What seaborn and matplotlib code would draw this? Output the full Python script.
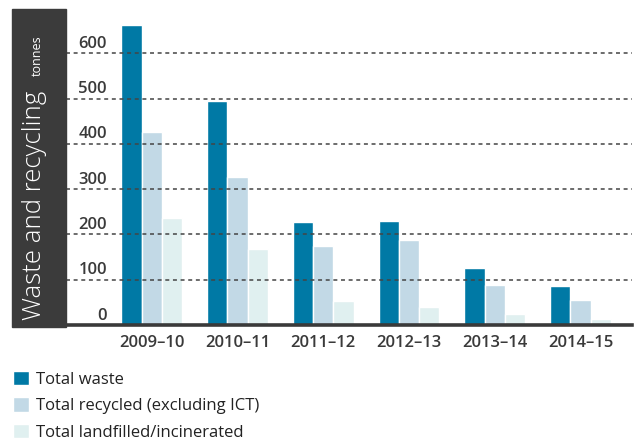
#Waste and recycling chart
import matplotlib
matplotlib.use("Agg")
import pandas as pd
import matplotlib.pyplot as plt
import matplotlib.transforms as mtransforms
from matplotlib.patches import Rectangle
import seaborn as sns

# data (tonnes)
years = ["2009–10", "2010–11", "2011–12", "2012–13", "2013–14", "2014–15"]
total_waste = [662, 494, 227, 230, 126, 86]
total_recycled = [426, 327, 174, 188, 88, 55]
total_landfilled = [236, 168, 53, 40, 24, 13]
series_names = ["Total waste", "Total recycled (excluding ICT)", "Total landfilled/incinerated"]
colors = ["#0079a5", "#c2d9e6", "#e0f0f0"]
yticks = [0, 100, 200, 300, 400, 500, 600]

df = pd.DataFrame({
    "year": years * 3,
    "series": [series_names[0]] * 6 + [series_names[1]] * 6 + [series_names[2]] * 6,
    "tonnes": total_waste + total_recycled + total_landfilled,
})

sns.set_style("white")
plt.rcParams["font.family"] = ["Open Sans", "DejaVu Sans"]

W, H = 635, 441
fig = plt.figure(figsize=(W / 100, H / 100), dpi=100)
ax = fig.add_axes([66 / W, 1 - 325 / H, 566 / W, 316 / H])

sns.barplot(data=df, x="year", y="tonnes", hue="series", palette=colors,
            width=0.71, gap=0, saturation=1, ax=ax)

ax.set_xlim(-1.0, 5.6)
ax.set_ylim(0, 698)
ax.set_xlabel("")
ax.set_ylabel("")
ax.set_yticks(yticks)

# dashed gridlines on top of bars
for v in yticks[1:]:
    ax.axhline(v, color="#444444", lw=1.1, ls=(0, (2.6, 2.4)), zorder=5)

for s in ["top", "right", "left"]:
    ax.spines[s].set_visible(False)
ax.spines["bottom"].set_color("#3a3a3a")
ax.spines["bottom"].set_linewidth(2.6)
ax.spines["bottom"].set_zorder(6)

ax.tick_params(axis="x", length=0, pad=7, labelsize=12, labelcolor="#3a3a3a")
ax.tick_params(axis="y", length=0, pad=-29.5, labelsize=12, labelcolor="#3a3a3a")
for lab in ax.get_xticklabels():
    lab.set_fontweight("semibold")
shift = mtransforms.ScaledTranslation(0, 0.115, fig.dpi_scale_trans)
for lab in ax.get_yticklabels():
    lab.set_fontweight("semibold")
    lab.set_transform(lab.get_transform() + shift)

# legend below the chart
sns.move_legend(ax, "upper left", bbox_to_anchor=(13 / W, 1 - 371 / H),
                bbox_transform=fig.transFigure, title=None, frameon=False,
                fontsize=12, handlelength=0.96, handleheight=0.96,
                handletextpad=0.4, labelspacing=0.57, borderpad=0, borderaxespad=0)
for t in ax.get_legend().get_texts():
    t.set_color("#222222")

# dark side panel with the vertical title
fig.patches.append(Rectangle((12 / W, 1 - 327 / H), 54 / W, 318 / H,
                             transform=fig.transFigure, color="#3b3b3b", zorder=0))
fig.text(41 / W, 1 - 320 / H, "Waste and recycling", rotation=90, rotation_mode="anchor",
         ha="left", va="baseline", color="white", fontsize=18.5, fontweight="light")
fig.text(41 / W, 1 - 35 / H, "tonnes", rotation=90, rotation_mode="anchor",
         ha="right", va="baseline", color="white", fontsize=9)

fig.savefig("out.png", dpi=100)
